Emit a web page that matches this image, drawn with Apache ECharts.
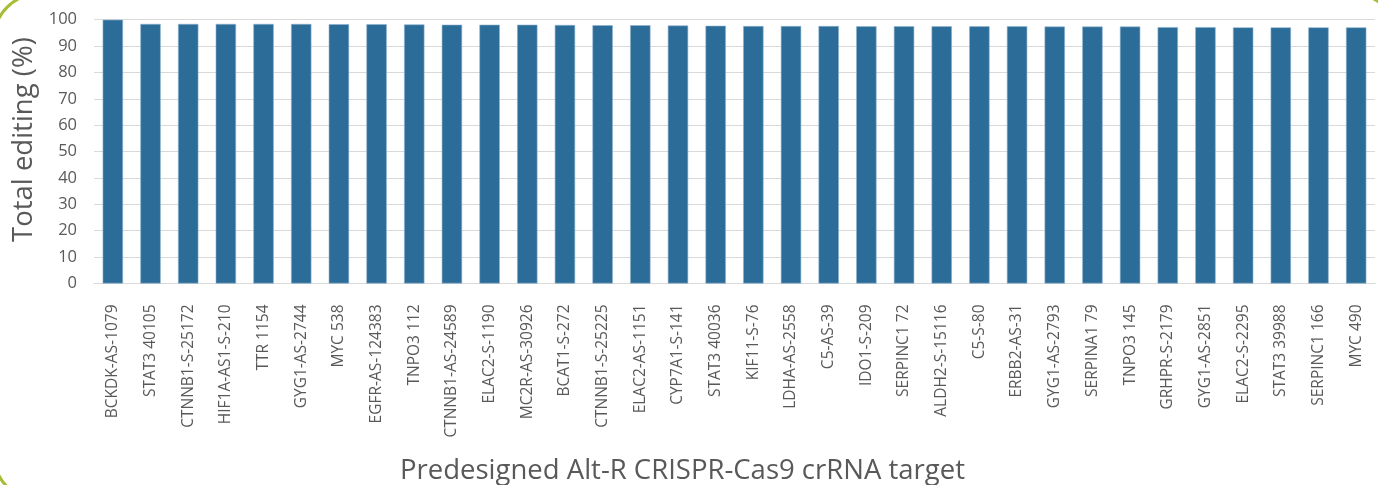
<!DOCTYPE html>
<html lang="en">
<head>
    <title>Total editing by crRNA target</title>
    <meta charset="utf-8">
    <style>
        html, body {margin: 0; padding: 0; background: #fff;}
        #container {width: 1378px; height: 485px;}
    </style>
</head>
<body>
<div id="container"></div>

<script type="text/javascript" src="https://cdn.jsdelivr.net/npm/echarts/dist/echarts.min.js"></script>
<script>
var targets = [
    'BCKDK-AS-1079', 'STAT3 40105', 'CTNNB1-S-25172', 'HIF1A-AS1-S-210', 'TTR 1154',
    'GYG1-AS-2744', 'MYC 538', 'EGFR-AS-124383', 'TNPO3 112', 'CTNNB1-AS-24589',
    'ELAC2-S-1190', 'MC2R-AS-30926', 'BCAT1-S-272', 'CTNNB1-S-25225', 'ELAC2-AS-1151',
    'CYP7A1-S-141', 'STAT3 40036', 'KIF11-S-76', 'LDHA-AS-2558', 'C5-AS-39',
    'IDO1-S-209', 'SERPINC1 72', 'ALDH2-S-15116', 'C5-S-80', 'ERBB2-AS-31',
    'GYG1-AS-2793', 'SERPINA1 79', 'TNPO3 145', 'GRHPR-S-2179', 'GYG1-AS-2851',
    'ELAC2-S-2295', 'STAT3 39988', 'SERPINC1 166', 'MYC 490'
];
var editing = [
    100, 98.4, 98.4, 98.4, 98.4,
    98.4, 98.3, 98.3, 98.2, 98.1,
    98.1, 98.1, 98.0, 97.9, 97.9,
    97.8, 97.7, 97.6, 97.6, 97.6,
    97.5, 97.5, 97.5, 97.5, 97.5,
    97.4, 97.4, 97.4, 97.2, 97.2,
    97.1, 97.1, 97.1, 97.1
];

var myChart = echarts.init(document.getElementById('container'));
var font = '"Open Sans", "Liberation Sans", sans-serif';
var options = {
    animation: false,
    textStyle: {fontFamily: font},
    grid: {left: 94, right: 3, top: 19.7, bottom: 201.5, containLabel: false, outerBoundsMode: 'none'},
    // rounded frame around the whole figure
    graphic: [{
        type: 'rect',
        silent: true,
        shape: {x: -6, y: -6, width: 1404, height: 506, r: 45},
        style: {fill: 'none', stroke: '#a8bc34', lineWidth: 3}
    }],
    xAxis: {
        type: 'category',
        data: targets,
        name: 'Predesigned Alt-R CRISPR-Cas9 crRNA target',
        nameLocation: 'middle',
        nameGap: 174,
        nameTextStyle: {fontSize: 27.5, color: '#595959', fontFamily: font, padding: [0, 104, 0, 0]},
        axisLine: {lineStyle: {color: '#d9d9d9', width: 1}},
        axisTick: {show: false},
        axisLabel: {
            rotate: 90, interval: 0, margin: 21,
            fontSize: 15.5, color: '#595959', fontFamily: font
        }
    },
    yAxis: {
        type: 'value',
        min: 0, max: 100, interval: 10,
        name: 'Total editing (%)',
        nameLocation: 'middle',
        nameGap: 50,
        nameTextStyle: {fontSize: 27.5, color: '#595959', fontFamily: font, padding: [0, 0, 0, 24]},
        axisLine: {show: false},
        axisTick: {show: false},
        axisLabel: {margin: 17, fontSize: 16.5, color: '#595959', fontFamily: font},
        splitLine: {lineStyle: {color: '#d9d9d9', width: 1}}
    },
    series: [{
        name: 'Total editing',
        type: 'bar',
        data: editing,
        barWidth: '54%',
        itemStyle: {color: '#2b6c99', borderColor: '#8db2cf', borderWidth: 0.6}
    }]
};
myChart.setOption(options);
</script>
</body>
</html>
